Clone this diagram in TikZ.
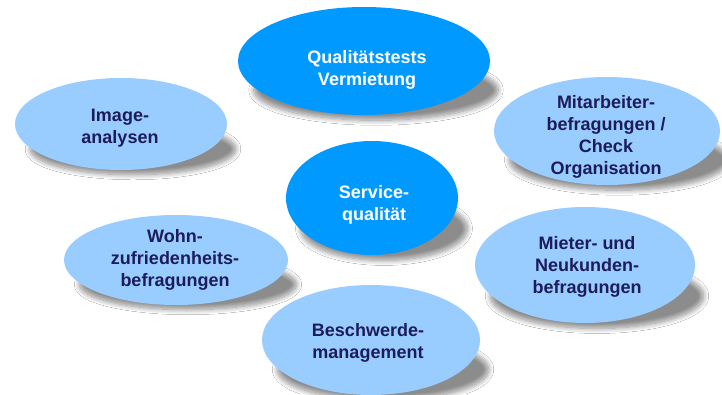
\documentclass[tikz,border=0pt]{standalone}
\usepackage{fontspec}
\setmainfont{Liberation Sans}
\usetikzlibrary{shapes.geometric,shadows.blur}
\definecolor{darkbl}{RGB}{0,153,255}
\definecolor{lightbl}{RGB}{153,204,255}
\definecolor{navytxt}{RGB}{28,28,90}
\begin{document}
\begin{tikzpicture}[x=1pt,y=-1pt,
  shad/.style={blur shadow={shadow xshift=0pt, shadow yshift=0pt, shadow opacity=45, shadow blur steps=10, shadow blur radius=5pt, shadow scale=1}},
  bub/.style={ellipse, inner sep=0pt, draw=none},
  darkbub/.style={bub, fill=darkbl},
  lightbub/.style={bub, fill=lightbl},
  lbl/.style={align=center, inner sep=0pt, font=\bfseries\fontsize{18}{22}\selectfont},
  wlbl/.style={lbl, text=white},
  nlbl/.style={lbl, text=navytxt}]
\fill[white] (0,0) rectangle (722,394);
\useasboundingbox (0,0) rectangle (722,394);
% shadows: flattened ellipses under the bubbles
\foreach \cx/\cy/\rx/\ry in {364/61/126/54, 121/124/106/46, 607/131/113/54, 372/198/86/57, 176/260/112/45, 585/265/110/58, 371/340/109/55}{
  \path[shad] ({\cx+12},{\cy+0.5*\ry+2}) ellipse ({0.97*\rx} and {0.56*\ry});
}
% ellipses
\node[darkbub, minimum width=252pt, minimum height=108pt] (qual) at (364,61) {};
\node[lightbub, minimum width=212pt, minimum height=92pt] (image) at (121,124) {};
\node[lightbub, minimum width=226pt, minimum height=108pt] (mitar) at (607,131) {};
\node[darkbub, minimum width=172pt, minimum height=114pt] (serv) at (372,198) {};
\node[lightbub, minimum width=224pt, minimum height=90pt] (wohn) at (176,260) {};
\node[lightbub, minimum width=220pt, minimum height=116pt] (mieter) at (585,265) {};
\node[lightbub, minimum width=218pt, minimum height=110pt] (besch) at (371,340) {};
% labels
\node[wlbl] (tqual) at (367,70) {Qualitätstests\\Vermietung};
\node[nlbl] (timage) at (120,128) {Image-\\analysen};
\node[nlbl] (tmitar) at (606,137) {Mitarbeiter-\\befragungen /\\Check\\Organisation};
\node[wlbl] (tserv) at (374,205) {Service-\\qualität};
\node[nlbl] (twohn) at (175,260) {Wohn-\\zufriedenheits-\\befragungen};
\node[nlbl] (tmieter) at (587,267) {Mieter- und\\Neukunden-\\befragungen};
\node[nlbl] (tbesch) at (368,343) {Beschwerde-\\management};
\end{tikzpicture}
\end{document}
